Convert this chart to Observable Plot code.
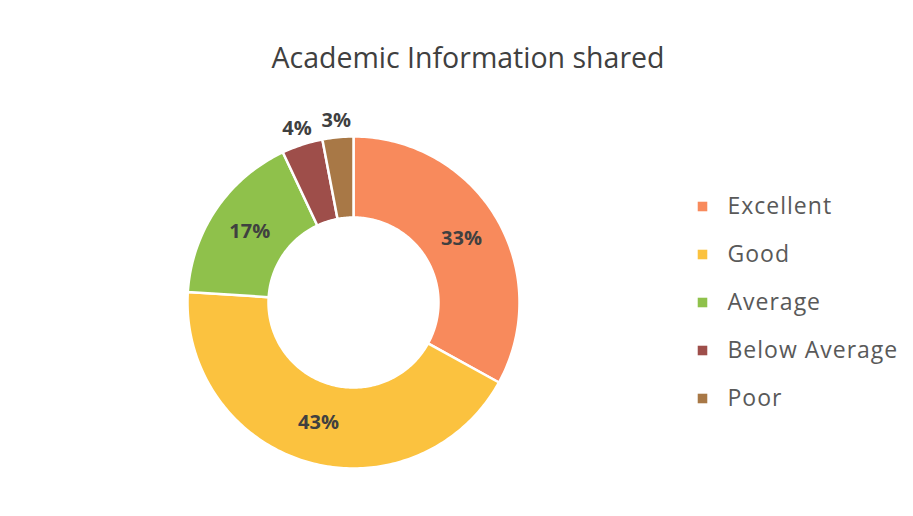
<!DOCTYPE html>
<html>
<head>
<meta charset="utf-8">
<script src="https://cdn.jsdelivr.net/npm/d3@7"></script>
<script src="https://cdn.jsdelivr.net/npm/@observablehq/plot@0.6"></script>
<style>
  html, body { margin: 0; padding: 0; background: #fff; }
  #wrap { position: relative; width: 913px; height: 516px; overflow: hidden; background: #fff; font-family: "Open Sans", Lato, sans-serif; }
  #title { position: absolute; top: 37px; left: 0; width: 936px; text-align: center; font-size: 28.5px; color: #404040; line-height: 40px; }
  #donut { position: absolute; left: 0; top: 0; }
  #legend { position: absolute; left: 690px; top: 180px; }
  #legend text { letter-spacing: 1px; }
</style>
</head>
<body>
<div id="wrap">
  <div id="title">Academic Information shared</div>
  <div id="donut"></div>
  <div id="legend"></div>
</div>
<script>
const categories = ["Excellent", "Good", "Average", "Below Average", "Poor"];
const values = [33, 43, 17, 4, 3];
const colors = ["#F88A5C", "#FBC23F", "#8FC14B", "#9E4E4A", "#A87846"];

const total = d3.sum(values);
const innerR = 85 / 166;
const slices = [];
const labels = [];
let acc = 0;
categories.forEach((c, i) => {
  const a0 = acc / total * 2 * Math.PI;
  acc += values[i];
  const a1 = acc / total * 2 * Math.PI;
  const n = Math.max(8, Math.ceil((a1 - a0) * 60));
  const pts = [];
  for (let k = 0; k <= n; k++) {
    const a = a0 + (a1 - a0) * k / n;
    pts.push({cat: c, x: Math.sin(a), y: Math.cos(a)});
  }
  for (let k = n; k >= 0; k--) {
    const a = a0 + (a1 - a0) * k / n;
    pts.push({cat: c, x: innerR * Math.sin(a), y: innerR * Math.cos(a)});
  }
  slices.push(...pts);
  const am = (a0 + a1) / 2;
  const r = values[i] < 5 ? 1.1 : (1 + innerR) / 2;
  labels.push({cat: c, x: r * Math.sin(am), y: r * Math.cos(am), text: values[i] + "%"});
});

const donut = Plot.plot({
  width: 913,
  height: 516,
  margin: 0,
  x: {domain: [-1, 1], range: [187, 519], axis: null},
  y: {domain: [-1, 1], range: [468, 136], axis: null},
  color: {domain: categories, range: colors},
  marks: [
    Plot.line(slices, {x: "x", y: "y", z: "cat", fill: "cat", stroke: "#fff", strokeWidth: 2.5, curve: "linear-closed"}),
    Plot.text(labels, {x: "x", y: "y", text: "text", fontSize: 20, fontWeight: "bold", fill: "#404040", fontFamily: "'Open Sans', Lato, sans-serif"})
  ]
});
document.getElementById("donut").append(donut);

const legend = Plot.plot({
  width: 220,
  height: 240,
  margin: 0,
  x: {domain: [0, 1], range: [0, 220], axis: null},
  y: {type: "point", domain: categories, range: [25, 218], padding: 0, axis: null},
  color: {domain: categories, range: colors},
  marks: [
    Plot.dot(categories, {y: d => d, frameAnchor: "left", dx: 12, symbol: "square", r: 5.4, fill: d => d}),
    Plot.text(categories, {y: d => d, text: d => d, frameAnchor: "left", dx: 37, textAnchor: "start", fontSize: 23, fill: "#595959", fontFamily: "'Open Sans', Lato, sans-serif"})
  ]
});
document.getElementById("legend").append(legend);
</script>
</body>
</html>
